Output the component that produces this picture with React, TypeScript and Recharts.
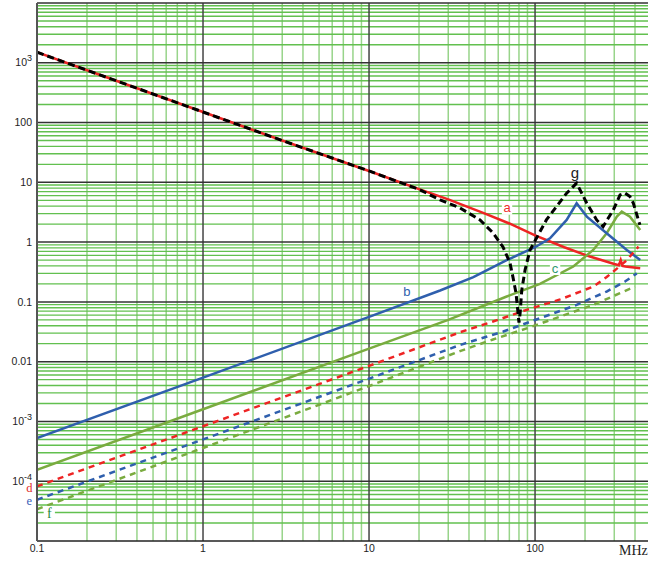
import React from 'react';
import { LineChart, Line, XAxis, YAxis, CartesianGrid, ReferenceDot } from 'recharts';

// ---- data (frequency in MHz, impedance values) ----
const aFreq = [0.1, 0.3, 1, 3, 10, 20, 30, 50, 70, 100, 150, 214, 300, 320, 328, 336, 350, 430];
const aVal = [1500, 500, 150, 50, 15.5, 7.7, 5.2, 3.0, 2.05, 1.3, 0.82, 0.573, 0.43, 0.41, 0.5, 0.4, 0.39, 0.366];

const gFreq = [0.1, 0.3, 1, 3, 10, 20, 26.8, 35.3, 46.6, 55.8, 64.1, 70.6, 73.6, 76.8, 79, 80, 81.3, 83.2, 87.1, 93.3, 117, 155, 178, 205, 235, 257, 296, 325, 348, 373, 391, 428];
const gVal = [1500, 500, 150, 50, 15.5, 7.6, 5.1, 3.73, 2.35, 1.43, 0.83, 0.45, 0.26, 0.14, 0.065, 0.045, 0.065, 0.159, 0.343, 0.74, 2.35, 6.58, 9.7, 4.47, 2.35, 1.82, 3.45, 6.15, 6.6, 5.77, 4.47, 1.94];

const bFreq = [0.1, 1, 10, 26.8, 42.5, 67.5, 100, 123, 155, 178, 205, 270, 357, 430];
const bVal = [5.26e-4, 5.4e-3, 0.056, 0.155, 0.26, 0.5, 0.82, 1.16, 2.35, 4.47, 2.67, 1.41, 0.74, 0.5];

const cFreq = [0.1, 1, 10, 30, 67.5, 107, 170, 224, 270, 311, 333, 373, 430];
const cVal = [1.55e-4, 1.6e-3, 0.0165, 0.05, 0.123, 0.2, 0.39, 0.74, 1.41, 2.67, 3.24, 2.67, 1.6];

const dFreq = [0.1, 1, 10, 35.3, 55.8, 89, 141.6, 224, 270, 311, 357, 420];
const dVal = [8.2e-5, 8.3e-4, 8.5e-3, 0.031, 0.047, 0.0735, 0.11, 0.18, 0.26, 0.36, 0.5, 0.84];

const eFreq = [0.1, 1, 10, 35.3, 64.4, 107, 178, 270, 348, 410];
const eVal = [4.9e-5, 5.0e-4, 5.2e-3, 0.019, 0.032, 0.0533, 0.089, 0.149, 0.219, 0.3];

const fFreq = [0.1, 1, 10, 35.3, 55.8, 89, 141.6, 224, 325, 400];
const fVal = [3.4e-5, 3.6e-4, 3.9e-3, 0.015, 0.0235, 0.036, 0.0568, 0.089, 0.14, 0.18];

// ---- axes / ticks ----
const xTicks = [0.1, 1, 10, 100];
const xTickLabels = ['0.1', '1', '10', '100'];
const yTicks = [1e-4, 1e-3, 0.01, 0.1, 1, 10, 100, 1000];
const yTickBase = ['10', '10', '0.01', '0.1', '1', '10', '100', '10'];
const yTickExp = ['-4', '-3', '', '', '', '', '', '3'];

const gridMultipliers = [2, 3, 4, 5, 6, 7, 8, 9];
const xDecades = [0.1, 1, 10, 100];
const yDecades = [1e-5, 1e-4, 1e-3, 1e-2, 0.1, 1, 10, 100, 1000];
const xMajor = [1, 10, 100];
const yMajor = [1e-4, 1e-3, 1e-2, 0.1, 1, 10, 100, 1000, 10000];
const X_MAX = 479;
const xMinor = xDecades.flatMap((d) => gridMultipliers.map((m) => m * d)).filter((v) => v < X_MAX);
const yMinor = yDecades.flatMap((d) => gridMultipliers.map((m) => m * d));

// ---- curve labels ----
const curveLabels = [
  { text: 'a', f: 67.8, v: 3.73, color: '#ee2a2a', serif: false, size: 13, bg: true },
  { text: 'b', f: 16.9, v: 0.147, color: '#2f5fad', serif: false, size: 13, bg: true },
  { text: 'c', f: 132, v: 0.366, color: '#2e9970', serif: false, size: 13, bg: true },
  { text: 'g', f: 174, v: 14.2, color: '#222222', serif: false, size: 15, bg: true },
  { text: 'd', f: 0.0899, v: 7.9e-5, color: '#e02a2a', serif: true, size: 12.5, bg: false },
  { text: 'e', f: 0.0899, v: 4.7e-5, color: '#3a60b8', serif: true, size: 12.5, bg: false },
  { text: 'f', f: 0.1186, v: 2.88e-5, color: '#1f8a3a', serif: true, size: 14, bg: true },
];

const zip = (f: number[], v: number[]) => f.map((x, i) => ({ f: x, v: v[i] }));

const series = [
  { key: 'a', data: zip(aFreq, aVal), color: '#ee2424', dash: undefined, width: 2.5 },
  { key: 'c', data: zip(cFreq, cVal), color: '#7aab3f', dash: undefined, width: 2.5 },
  { key: 'b', data: zip(bFreq, bVal), color: '#2f5fad', dash: undefined, width: 2.5 },
  { key: 'f', data: zip(fFreq, fVal), color: '#7aab3f', dash: '6 5', width: 2.5 },
  { key: 'e', data: zip(eFreq, eVal), color: '#2f5fad', dash: '6 5', width: 2.5 },
  { key: 'd', data: zip(dFreq, dVal), color: '#ee2424', dash: '6 5', width: 2.5 },
  { key: 'g', data: zip(gFreq, gVal), color: '#000000', dash: '7 4', width: 3 },
];

const SANS = '"Liberation Sans", Arial, sans-serif';
const SERIF = '"Liberation Serif", "Times New Roman", serif';

const YTick = (props: any) => {
  const { x, y, payload } = props;
  const i = yTicks.findIndex((t) => Math.abs(Math.log10(t) - Math.log10(payload.value)) < 1e-6);
  if (i < 0) return null;
  const exp = yTickExp[i];
  return (
    <text x={x} y={y} dy="0.35em" textAnchor="end" fontSize={10.5} fontFamily={SANS} fill="#222">
      <tspan>{yTickBase[i]}</tspan>
      {exp ? (
        <tspan dy={-5} fontSize={9}>
          {exp}
        </tspan>
      ) : null}
    </text>
  );
};

const XTick = (props: any) => {
  const { x, y, payload } = props;
  const i = xTicks.findIndex((t) => Math.abs(Math.log10(t) - Math.log10(payload.value)) < 1e-6);
  if (i < 0) return null;
  return (
    <text x={x} y={y} dy="0.71em" textAnchor="middle" fontSize={10.5} fontFamily={SANS} fill="#222">
      {xTickLabels[i]}
    </text>
  );
};

const makeLetter = (l: (typeof curveLabels)[number]) => (props: any) => {
  const vb = props.viewBox || {};
  const cx = (vb.x ?? 0) + (vb.width ?? 0) / 2;
  const cy = (vb.y ?? 0) + (vb.height ?? 0) / 2;
  const w = l.size * 0.8;
  const h = l.size * 1.05;
  return (
    <g>
      {l.bg ? <rect x={cx - w / 2} y={cy - h / 2} width={w} height={h} fill="#ffffff" /> : null}
      <text
        x={cx}
        y={cy}
        dy="0.35em"
        textAnchor="middle"
        fontSize={l.size}
        fontFamily={l.serif ? SERIF : SANS}
        fill={l.color}
      >
        {l.text}
      </text>
    </g>
  );
};

const MhzLabel = (props: any) => {
  const vb = props.viewBox || {};
  return (
    <text x={(vb.x ?? 0) + (vb.width ?? 0) - 29} y={(vb.y ?? 0) + 9} dy="0.35em" fontSize={14} fontFamily={SERIF} fill="#222">
      MHz
    </text>
  );
};

export default function App() {
  return (
    <div style={{ position: 'absolute', left: 0, top: 0, width: 648, height: 561, overflow: 'hidden', background: '#fff' }}>
      <LineChart width={648} height={561} margin={{ top: 3, right: 0, bottom: 0, left: 0 }}>
        <CartesianGrid horizontal={false} vertical verticalValues={xMinor} stroke="#98d48a" strokeWidth={1.5} fill="none" />
        <CartesianGrid vertical={false} horizontal horizontalValues={yMinor} stroke="#62c04f" strokeWidth={1.4} fill="none" />
        <CartesianGrid horizontal={false} vertical verticalValues={xMajor} stroke="#444" strokeWidth={1.5} fill="none" />
        <CartesianGrid vertical={false} horizontal horizontalValues={yMajor} stroke="#333" strokeWidth={1.5} fill="none" />
        <XAxis
          dataKey="f"
          type="number"
          scale="log"
          domain={[0.1, X_MAX]}
          allowDataOverflow
          ticks={xTicks}
          interval={0}
          tickLine={false}
          tickSize={0}
          tickMargin={4}
          height={20}
          axisLine={{ stroke: '#222', strokeWidth: 1.5 }}
          tick={<XTick />}
          label={(p: any) => <MhzLabel {...p} />}
        />
        <YAxis
          dataKey="v"
          type="number"
          scale="log"
          domain={[1e-5, 1e4]}
          allowDataOverflow
          ticks={yTicks}
          interval={0}
          tickLine={false}
          tickSize={0}
          tickMargin={5}
          width={37}
          axisLine={{ stroke: '#555', strokeWidth: 2 }}
          tick={<YTick />}
        />
        {series.map((s) => (
          <Line
            key={s.key}
            data={s.data}
            dataKey="v"
            type="linear"
            stroke={s.color}
            strokeWidth={s.width}
            strokeDasharray={s.dash}
            dot={false}
            activeDot={false}
            isAnimationActive={false}
          />
        ))}
        {curveLabels.map((l) => (
          <ReferenceDot
            key={l.text}
            x={l.f}
            y={l.v}
            r={1}
            fill="none"
            stroke="none"
            ifOverflow="visible"
            label={makeLetter(l)}
          />
        ))}
      </LineChart>
    </div>
  );
}
